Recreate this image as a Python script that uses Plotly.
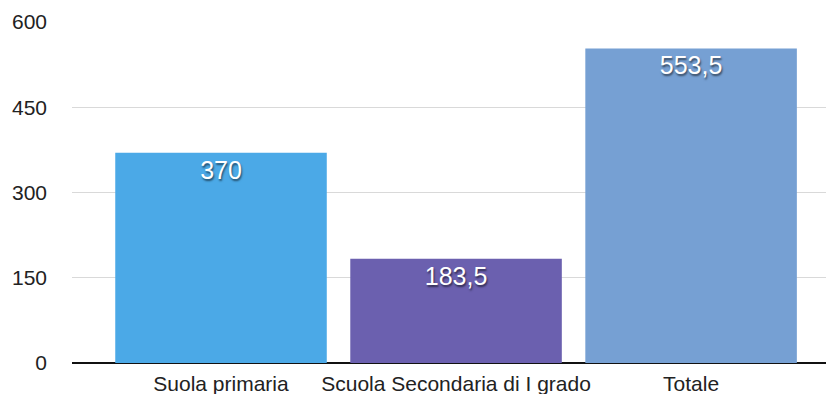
import plotly.graph_objects as go

categories = ["Suola primaria", "Scuola Secondaria di I grado", "Totale"]
values = [370, 183.5, 553.5]
labels = ["370", "183,5", "553,5"]
colors = ["#4BA9E7", "#6B60AF", "#76A0D3"]
y_ticks = [0, 150, 300, 450, 600]

fig = go.Figure(go.Bar(
    x=categories, y=values, marker=dict(color=colors, line=dict(width=0)),
    text=labels, textposition="inside", insidetextanchor="end",
    textfont=dict(family="Liberation Sans, Arial, sans-serif", size=25, color="white",
                  shadow="1px 2px 2px rgba(0,0,0,0.55)"),
    cliponaxis=False, width=0.9,
))
fig.update_layout(
    width=826, height=394,
    margin=dict(l=72, r=0, t=22, b=31),
    plot_bgcolor="white", paper_bgcolor="white",
    font=dict(family="Liberation Sans, Arial, sans-serif", size=21, color="#222"),
    showlegend=False,
    uniformtext=dict(mode="show", minsize=25),
)
fig.update_xaxes(range=[-0.634, 2.574], showgrid=False, ticks="", tickfont=dict(size=21),
                 showline=False, zeroline=False, ticklabelstandoff=6)
fig.update_yaxes(range=[0, 600], tickvals=y_ticks, ticktext=[str(v) for v in y_ticks],
                 showgrid=True, gridcolor="#D9D9D9", gridwidth=1,
                 zeroline=True, zerolinecolor="#111", zerolinewidth=2,
                 ticks="", ticklabelstandoff=24, tickfont=dict(size=21))
fig.write_html("out.html")
